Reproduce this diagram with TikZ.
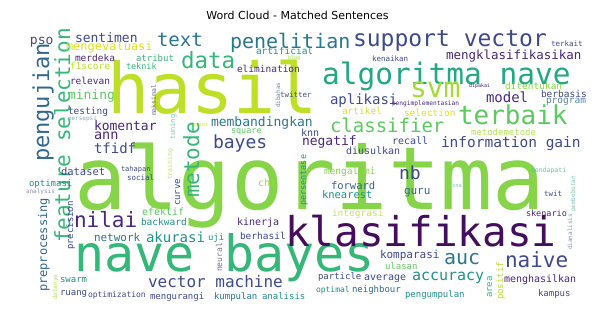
\documentclass[tikz,border=0pt]{standalone}
\usepackage{fontspec}
\newfontfamily\wc{DejaVu Sans Mono}
\newfontfamily\ttl{DejaVu Sans}
\definecolor{cA}{HTML}{450D5D}
\definecolor{cB}{HTML}{482878}
\definecolor{cC}{HTML}{3E4A89}
\definecolor{cD}{HTML}{31688E}
\definecolor{cE}{HTML}{2A788E}
\definecolor{cF}{HTML}{21918C}
\definecolor{cG}{HTML}{22A884}
\definecolor{cH}{HTML}{35B779}
\definecolor{cI}{HTML}{5EC962}
\definecolor{cJ}{HTML}{86D549}
\definecolor{cK}{HTML}{A5DB36}
\definecolor{cL}{HTML}{BDDF26}
\definecolor{cM}{HTML}{DDE318}
\tikzset{
  wd/.style={font={\wc\fontsize{#1}{#1}\selectfont}, anchor=base west, inner sep=0pt, outer sep=0pt},
  vw/.style={wd=#1, rotate=90},
}
\begin{document}
\begin{tikzpicture}[x=1pt,y=-1pt]
\useasboundingbox (0,0) rectangle (595,320);
\fill[white] (0,0) rectangle (595,320);
\node[font={\ttl\fontsize{11}{11}\selectfont}, anchor=base] (title) at (297.5,20) {Word Cloud - Matched Sentences};
% big words
\node[wd=87, cJ] (w1) at (74,210) {algoritma};
\node[wd=70, cL] (w2) at (107,114) {hasil};
\node[wd=50, cH] (w3) at (74,272) {nave bayes};
\node[wd=41, cA] (w4) at (285,247) {klasifikasi};
\node[wd=29.5, cG] (w5) at (322,85) {algoritma nave};
\node[vw=21, cH] (w6) at (70,243) {feature selection};
\node[vw=22, cD] (w7) at (49,162) {pengujian};
\node[wd=13, cC] (w8) at (30,45) {pso};
\node[wd=13, cC] (w9) at (75,43) {sentimen};
\node[wd=12, cM] (w10) at (66,51) {mengevaluasi};
\node[wd=9.5, cB] (w11) at (75,62) {merdeka};
\node[wd=9, cH] (w12) at (136,62) {atribut};
\node[wd=9.5, cL] (w13) at (70,70) {f1score};
\node[wd=8.5, cH] (w14) at (126,70) {teknik};
\node[wd=9.5, cB] (w15) at (70,85) {relevan};
\node[wd=13, cI] (w16) at (68,100) {mining};
\node[wd=9.5, cC] (w17) at (68,115) {testing};
\node[wd=6, cD!60] (w18) at (68,121) {persepsi};
\node[vw=6.5, cB!70] (w19) at (156,116) {maksimal};
\node[wd=13, cB] (w20) at (94,131) {komentar};
\node[wd=13.5, cB] (w21) at (94,140) {ann};
\node[wd=14, cC] (w22) at (94,154) {tfidf};
\node[wd=19, cE] (w23) at (157,47) {text};
\node[wd=20, cE] (w24) at (230,49) {penelitian};
\node[wd=22.5, cH] (w25) at (181,69) {data};
\node[wd=9.5, cF] (w26) at (256,55) {artificial};
\node[wd=9.5, cB] (w27) at (237,73) {elimination};
\node[wd=5, cK] (w28) at (288,60) {blog};
\node[vw=6, cC!70] (w29) at (280,108) {dibahas};
\node[wd=7.5, cC] (w30) at (280,98) {twitter};
\node[wd=23, cC] (w31) at (353,47) {support vector};
\node[wd=7.5, cC] (w32) at (372,62) {kenaikan};
\node[wd=7.5, cC] (w33) at (551,47) {terkait};
\node[wd=12.5, cB] (w34) at (446,60) {mengklasifikasikan};
\node[wd=28, cK] (w35) at (410,98) {svm};
\node[wd=5, cB] (w36) at (469,88) {dipakai};
\node[wd=9.5, cJ] (w37) at (505,90) {ditentukan};
\node[wd=14, cB] (w38) at (486,103) {model};
\node[wd=9.5, cC] (w39) at (541,98) {berbasis};
\node[wd=9.5, cD!80] (w40) at (546,104) {program};
\node[wd=5.5, cM] (w41) at (192,127) {opini};
\node[wd=13, cE] (w42) at (211,127) {membandingkan};
\node[wd=8.5, cI] (w43) at (231,134) {square};
\node[wd=18, cC] (w44) at (213,149) {bayes};
\node[vw=21, cH] (w45) at (199,198) {metode};
\node[vw=7, cG!60] (w46) at (175,140) {tuning};
\node[wd=14, cC] (w47) at (330,105) {aplikasi};
\node[wd=6.2, cB] (w48) at (392,106) {pengimplementasian};
\node[wd=9.5, cM] (w49) at (342,115) {artikel};
\node[wd=9.5, cM] (w50) at (404,117) {selection};
\node[wd=19, cI] (w51) at (330,133) {classifier};
\node[wd=10, cC] (w52) at (301,137) {knn};
\node[wd=13, cB] (w53) at (302,146) {negatif};
\node[wd=10, cC] (w54) at (392,145) {recall};
\node[wd=10, cC] (w55) at (346,155) {diusulkan};
\node[wd=26, cI] (w56) at (458,125) {terbaik};
\node[wd=9, cK!80] (w57) at (471,136) {metodemetode};
\node[wd=14.5, cC] (w58) at (441,148) {information gain};
\node[wd=10.5, cC] (w59) at (61,176) {dataset};
\node[wd=9, cF] (w60) at (29,187) {optimasi};
\node[wd=6, cC!60] (w61) at (26,194) {analysis};
\node[wd=7, cC] (w62) at (121,172) {tahapan};
\node[wd=7.5, cC] (w63) at (127,181) {social};
\node[vw=9, cC] (w64) at (73,250) {precision};
\node[wd=21, cB] (w65) at (74,228) {nilai};
\node[wd=10, cI] (w66) at (142,216) {efektif};
\node[wd=9.5, cF] (w67) at (141,226) {backward};
\node[vw=12, cD] (w68) at (47,292) {preprocessing};
\node[vw=6.5, cK!70] (w69) at (172,180) {training};
\node[vw=9, cC] (w70) at (180,206) {curve};
\node[wd=10, cK] (w71) at (258,187) {chi};
\node[wd=10, cB] (w72) at (237,226) {kinerja};
\node[vw=8.5, cF] (w73) at (306,206) {persentase};
\node[wd=9.5, cJ] (w74) at (324,175) {mengalami};
\node[wd=18, cC] (w75) at (399,180) {nb};
\node[wd=10.5, cD] (w76) at (331,190) {forward};
\node[wd=10.5, cF] (w77) at (322,199) {knearest};
\node[wd=11, cD] (w78) at (404,195) {guru};
\node[wd=9.5, cL!80] (w79) at (332,217) {integrasi};
\node[wd=6.5, cG!70] (w80) at (531,173) {mendapati};
\node[wd=5.5, cG!60] (w81) at (452,188) {sna};
\node[wd=7.5, cC] (w82) at (544,197) {twit};
\node[wd=8.5, cB] (w83) at (526,217) {skenario};
\node[vw=6, cG!60] (w84) at (575,212) {pembobotan};
\node[vw=6, cC!60] (w85) at (572,250) {dianalisis};
% bottom left
\node[wd=11, cE] (w86) at (94,242) {network};
\node[wd=14, cF] (w87) at (146,243) {akurasi};
\node[wd=9, cF] (w88) at (208,241) {uji};
\node[wd=9.5, cC] (w89) at (240,240) {berhasil};
\node[vw=8, cB!70] (w90) at (222,272) {neural};
\node[wd=16, cC] (w91) at (148,288) {vector machine};
\node[wd=9, cF] (w92) at (60,283) {swarm};
\node[wd=9, cC] (w93) at (60,296) {ruang};
\node[vw=6, cK!80] (w94) at (57,300) {datanya};
\node[wd=8, cC] (w95) at (88,298) {optimization};
\node[wd=9, cC] (w96) at (150,300) {mengurangi};
\node[wd=9, cE] (w97) at (214,300) {kumpulan};
\node[wd=9, cF] (w98) at (262,300) {analisis};
% bottom right
\node[wd=11, cC] (w99) at (380,259) {komparasi};
\node[wd=20, cE] (w100) at (444,265) {auc};
\node[wd=21, cC] (w101) at (505,268) {naive};
\node[wd=9, cI] (w102) at (385,270) {ulasan};
\node[wd=9, cC] (w103) at (318,280) {particle};
\node[wd=10, cC] (w104) at (364,281) {average};
\node[wd=15, cF] (w105) at (412,281) {accuracy};
\node[vw=9, cH] (w106) at (492,298) {area};
\node[vw=9, cL] (w107) at (503,300) {positif};
\node[wd=10, cB] (w108) at (504,283) {menghasilkan};
\node[wd=8, cF] (w109) at (316,293) {optimal};
\node[wd=9, cD] (w110) at (352,293) {neighbour};
\node[wd=9, cF] (w111) at (405,298) {pengumpulan};
\node[wd=9, cC] (w112) at (538,297) {kampus};
\end{tikzpicture}
\end{document}
